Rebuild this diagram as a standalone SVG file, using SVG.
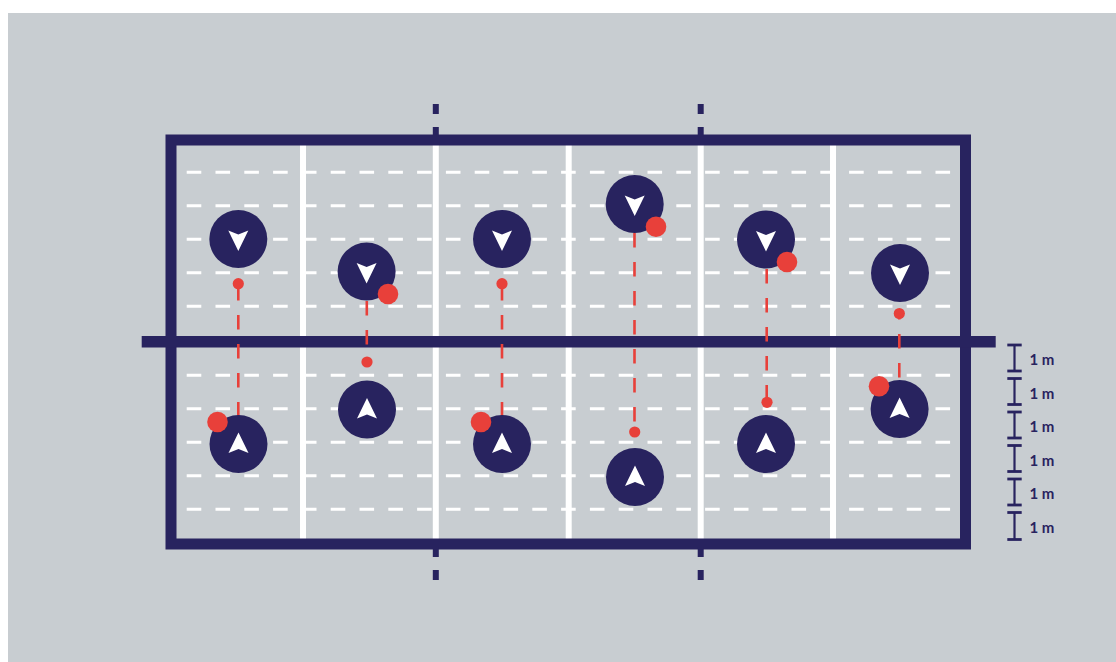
<svg xmlns="http://www.w3.org/2000/svg" xmlns:xlink="http://www.w3.org/1999/xlink" width="1116" height="662" viewBox="0 0 1116 662">
<style>
.navy{fill:#28235F}
.border{fill:none;stroke:#28235F;stroke-width:11}
.wline{stroke:#FFFFFF;stroke-width:6}
.wdash{stroke:#FFFFFF;stroke-width:3;stroke-dasharray:14.6 14.2}
.pass{stroke:#E8403A;stroke-width:2.6;fill:none;stroke-dasharray:14.5 14.5}
.target{fill:#E8403A}
.ball{fill:#E8403A}
.player{fill:#28235F}
.arrow{fill:#FFFFFF}
.scale{stroke:#28235F;stroke-width:2.2;fill:none}
.cap{stroke:#28235F;stroke-width:2.8}
.lbl{font-family:"Lato","Liberation Sans",sans-serif;font-weight:bold;font-size:15px;fill:#28235F}
</style>
<defs>
<path id="arrDown" d="M-10,-8.5 L0,-4.5 L10,-8.5 L0,12 Z"/>
<path id="arrUp" d="M10,9 L0,5 L-10,9 L0,-11.5 Z"/>
</defs>
<rect x="0" y="0" width="1116" height="662" fill="#FFFFFF"/>
<rect x="8" y="13" width="1108" height="649" fill="#C8CDD1"/>
<g id="court">
<g id="yard-lines">
<line class="wdash" x1="186.7" y1="172.3" x2="951" y2="172.3"/>
<line class="wdash" x1="186.7" y1="205.8" x2="951" y2="205.8"/>
<line class="wdash" x1="186.7" y1="239.2" x2="951" y2="239.2"/>
<line class="wdash" x1="186.7" y1="272.7" x2="951" y2="272.7"/>
<line class="wdash" x1="186.7" y1="306.2" x2="951" y2="306.2"/>
<line class="wdash" x1="186.7" y1="375.3" x2="951" y2="375.3"/>
<line class="wdash" x1="186.7" y1="408.8" x2="951" y2="408.8"/>
<line class="wdash" x1="186.7" y1="442.3" x2="951" y2="442.3"/>
<line class="wdash" x1="186.7" y1="475.8" x2="951" y2="475.8"/>
<line class="wdash" x1="186.7" y1="509.2" x2="951" y2="509.2"/>
</g>
<g id="lanes">
<line class="wline" x1="303" y1="145" x2="303" y2="539"/>
<line class="wline" x1="435.8" y1="145" x2="435.8" y2="539"/>
<line class="wline" x1="568.7" y1="145" x2="568.7" y2="539"/>
<line class="wline" x1="700.7" y1="145" x2="700.7" y2="539"/>
<line class="wline" x1="833" y1="145" x2="833" y2="539"/>
</g>
<rect class="border" x="171" y="140" width="794.5" height="404"/>
<rect class="navy" x="141.7" y="336" width="854" height="11.5"/>
<g id="marks">
<rect class="navy" x="432.8" y="104" width="6" height="10"/>
<rect class="navy" x="432.8" y="127" width="6" height="10"/>
<rect class="navy" x="697.7" y="104" width="6" height="10"/>
<rect class="navy" x="697.7" y="127" width="6" height="10"/>
<rect class="navy" x="432.8" y="547" width="6" height="10"/>
<rect class="navy" x="432.8" y="570" width="6" height="10"/>
<rect class="navy" x="697.7" y="547" width="6" height="10"/>
<rect class="navy" x="697.7" y="570" width="6" height="10"/>
</g>
</g>
<g id="connectors">
<line class="pass" x1="238.3" y1="286" x2="238.3" y2="418"/>
<circle class="target" cx="238.3" cy="283.7" r="5.6"/>
<line class="pass" x1="366.8" y1="301" x2="366.8" y2="360"/>
<circle class="target" cx="367" cy="362" r="5.6"/>
<line class="pass" x1="502" y1="286" x2="502" y2="418"/>
<circle class="target" cx="502" cy="283.7" r="5.6"/>
<line class="pass" x1="634.5" y1="233" x2="634.5" y2="430"/>
<circle class="target" cx="634.7" cy="432" r="5.6"/>
<line class="pass" x1="766.7" y1="269" x2="766.7" y2="400"/>
<circle class="target" cx="767" cy="402.3" r="5.6"/>
<line class="pass" x1="899.3" y1="313" x2="899.3" y2="382" style="stroke-dashoffset:8"/>
<circle class="target" cx="899.3" cy="313.5" r="5.6"/>
</g>
<g id="p1-top"><circle class="player" cx="238.3" cy="239" r="29"/><use href="#arrDown" class="arrow" transform="translate(238.3 239)"/></g>
<g id="p2-top"><circle class="player" cx="366.6" cy="271.5" r="29"/><use href="#arrDown" class="arrow" transform="translate(366.6 271.5)"/><circle class="ball" cx="388" cy="294" r="10.3"/></g>
<g id="p3-top"><circle class="player" cx="502" cy="239" r="29"/><use href="#arrDown" class="arrow" transform="translate(502 239)"/></g>
<g id="p4-top"><circle class="player" cx="634.7" cy="204" r="29"/><use href="#arrDown" class="arrow" transform="translate(634.7 204)"/><circle class="ball" cx="656" cy="226.7" r="10.3"/></g>
<g id="p5-top"><circle class="player" cx="766" cy="239.5" r="29"/><use href="#arrDown" class="arrow" transform="translate(766 239.5)"/><circle class="ball" cx="787" cy="262" r="10.3"/></g>
<g id="p6-top"><circle class="player" cx="900" cy="273" r="29"/><use href="#arrDown" class="arrow" transform="translate(900 273)"/></g>
<g id="p1-bottom"><circle class="player" cx="238.5" cy="444" r="29"/><use href="#arrUp" class="arrow" transform="translate(238.5 444)"/><circle class="ball" cx="217.5" cy="422" r="10.3"/></g>
<g id="p2-bottom"><circle class="player" cx="367" cy="409.5" r="29"/><use href="#arrUp" class="arrow" transform="translate(367 409.5)"/></g>
<g id="p3-bottom"><circle class="player" cx="502" cy="444" r="29"/><use href="#arrUp" class="arrow" transform="translate(502 444)"/><circle class="ball" cx="481" cy="422" r="10.3"/></g>
<g id="p4-bottom"><circle class="player" cx="635" cy="477" r="29"/><use href="#arrUp" class="arrow" transform="translate(635 477)"/></g>
<g id="p5-bottom"><circle class="player" cx="766" cy="444" r="29"/><use href="#arrUp" class="arrow" transform="translate(766 444)"/></g>
<g id="p6-bottom"><circle class="player" cx="899.6" cy="409" r="29"/><use href="#arrUp" class="arrow" transform="translate(899.6 409)"/><circle class="ball" cx="879" cy="386.3" r="10.3"/></g>
<g id="scale">
<g transform="translate(0 0)"><line class="scale" x1="1014.5" y1="345" x2="1014.5" y2="371"/><line class="cap" x1="1007.3" y1="345" x2="1021.7" y2="345"/><line class="cap" x1="1007.3" y1="371" x2="1021.7" y2="371"/><text class="lbl" x="1029.5" y="365">1 m</text></g>
<g transform="translate(0 33.5)"><line class="scale" x1="1014.5" y1="345" x2="1014.5" y2="371"/><line class="cap" x1="1007.3" y1="345" x2="1021.7" y2="345"/><line class="cap" x1="1007.3" y1="371" x2="1021.7" y2="371"/><text class="lbl" x="1029.5" y="365">1 m</text></g>
<g transform="translate(0 67)"><line class="scale" x1="1014.5" y1="345" x2="1014.5" y2="371"/><line class="cap" x1="1007.3" y1="345" x2="1021.7" y2="345"/><line class="cap" x1="1007.3" y1="371" x2="1021.7" y2="371"/><text class="lbl" x="1029.5" y="365">1 m</text></g>
<g transform="translate(0 100.5)"><line class="scale" x1="1014.5" y1="345" x2="1014.5" y2="371"/><line class="cap" x1="1007.3" y1="345" x2="1021.7" y2="345"/><line class="cap" x1="1007.3" y1="371" x2="1021.7" y2="371"/><text class="lbl" x="1029.5" y="365">1 m</text></g>
<g transform="translate(0 134)"><line class="scale" x1="1014.5" y1="345" x2="1014.5" y2="371"/><line class="cap" x1="1007.3" y1="345" x2="1021.7" y2="345"/><line class="cap" x1="1007.3" y1="371" x2="1021.7" y2="371"/><text class="lbl" x="1029.5" y="365">1 m</text></g>
<g transform="translate(0 167.5)"><line class="scale" x1="1014.5" y1="345" x2="1014.5" y2="372"/><line class="cap" x1="1007.3" y1="345" x2="1021.7" y2="345"/><line class="cap" x1="1007.3" y1="372" x2="1021.7" y2="372"/><text class="lbl" x="1029.5" y="365">1 m</text></g>
</g>
</svg>
